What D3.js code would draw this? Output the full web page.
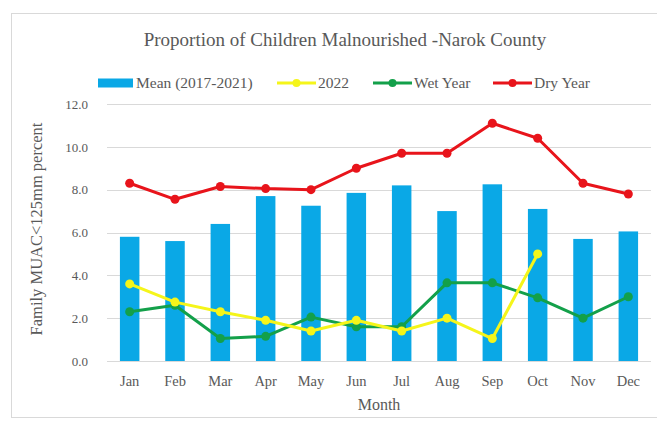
<!DOCTYPE html>
<html><head><meta charset="utf-8">
<script src="https://cdn.jsdelivr.net/npm/d3@7/dist/d3.min.js"></script>
<style>body{margin:0;background:#fff}svg{display:block}</style>
</head><body><svg id="c" width="657" height="421"></svg>
<script>
const months = ["Jan","Feb","Mar","Apr","May","Jun","Jul","Aug","Sep","Oct","Nov","Dec"];
const meanValues = [5.8,5.6,6.4,7.7,7.25,7.85,8.2,7.0,8.25,7.1,5.7,6.05];
const y2022Values = [3.6,2.75,2.3,1.9,1.4,1.9,1.4,2.0,1.05,5.0];
const wetValues = [2.3,2.6,1.05,1.15,2.05,1.6,1.6,3.65,3.65,2.95,2.0,3.0];
const dryValues = [8.3,7.55,8.15,8.05,8.0,9.0,9.7,9.7,11.1,10.4,8.3,7.8];
const yTicks = [0,2,4,6,8,10,12];

const FF = '"Liberation Serif","Times New Roman",serif';
const TC = "#595959";
const svg = d3.select("#c");
const L=107, R=651, T=104, B=361;
svg.append("rect").attr("x",11.5).attr("y",13.5).attr("width",700).attr("height",404).attr("fill","none").attr("stroke","#d9d9d9");

const x = d3.scaleBand().domain(months).range([L,R]).paddingInner(0.57).paddingOuter(0.285);
const y = d3.scaleLinear().domain([0,12]).range([B,T]);
const cx = m => x(m)+x.bandwidth()/2;

const grid = svg.append("g");
yTicks.forEach(t=>{
  grid.append("line").attr("x1",L).attr("x2",R).attr("y1",Math.round(y(t))+0.5).attr("y2",Math.round(y(t))+0.5).attr("stroke","#d9d9d9").attr("stroke-width",1);
});

const yAxis = svg.append("g").attr("transform",`translate(${88},0)`)
  .call(d3.axisLeft(y).tickValues(yTicks).tickFormat(d3.format(".1f")).tickSize(0).tickPadding(0));
yAxis.attr("font-family",FF).attr("font-size",13);
yAxis.select(".domain").remove();
yAxis.selectAll("text").attr("fill",TC);

svg.append("g").selectAll("rect").data(meanValues).join("rect")
  .attr("x",(d,i)=>x(months[i])).attr("width",x.bandwidth())
  .attr("y",d=>y(d)).attr("height",d=>B-y(d)).attr("fill","#0aa8e6");

const xAxis = svg.append("g").attr("transform",`translate(0,${B+12})`)
  .call(d3.axisBottom(x).tickSize(0));
xAxis.attr("font-family",FF).attr("font-size",14.5);
xAxis.select(".domain").remove();
xAxis.selectAll("text").attr("fill",TC);

function series(vals,color){
  const line = d3.line().x((d,i)=>cx(months[i])).y(d=>y(d));
  svg.append("path").datum(vals).attr("d",line).attr("fill","none").attr("stroke",color).attr("stroke-width",3).attr("stroke-linejoin","round");
  svg.append("g").selectAll("circle").data(vals).join("circle")
    .attr("cx",(d,i)=>cx(months[i])).attr("cy",d=>y(d)).attr("r",4.5).attr("fill",color);
}
series(wetValues,"#13a04a");
series(y2022Values,"#f5f51a");
series(dryValues,"#e8141b");

const txt = (xx,yy,s,t,anchor="middle") => svg.append("text").attr("x",xx).attr("y",yy).attr("text-anchor",anchor)
  .attr("font-family",FF).attr("font-size",s).attr("fill",TC).text(t);
txt(345,46,19,"Proportion of Children Malnourished -Narok County");
txt(379,410,16,"Month");
svg.append("text").attr("transform",`translate(42,229) rotate(-90)`).attr("text-anchor","middle")
  .attr("font-family",FF).attr("font-size",16.5).attr("fill",TC).text("Family MUAC<125mm percent");

// legend
const ly = 83;
svg.append("rect").attr("x",98).attr("y",ly-4.5).attr("width",35).attr("height",9).attr("fill","#0aa8e6");
txt(136,ly+5,15.5,"Mean (2017-2021)","start");
[[277,"#f5f51a","2022"],[373,"#13a04a","Wet Year"],[493,"#e8141b","Dry Year"]].forEach(([lx,c,t])=>{
  svg.append("line").attr("x1",lx).attr("x2",lx+39).attr("y1",ly).attr("y2",ly).attr("stroke",c).attr("stroke-width",3);
  svg.append("circle").attr("cx",lx+19.5).attr("cy",ly).attr("r",4).attr("fill",c);
  txt(lx+41,ly+5,15.5,t,"start");
});
</script></body></html>
